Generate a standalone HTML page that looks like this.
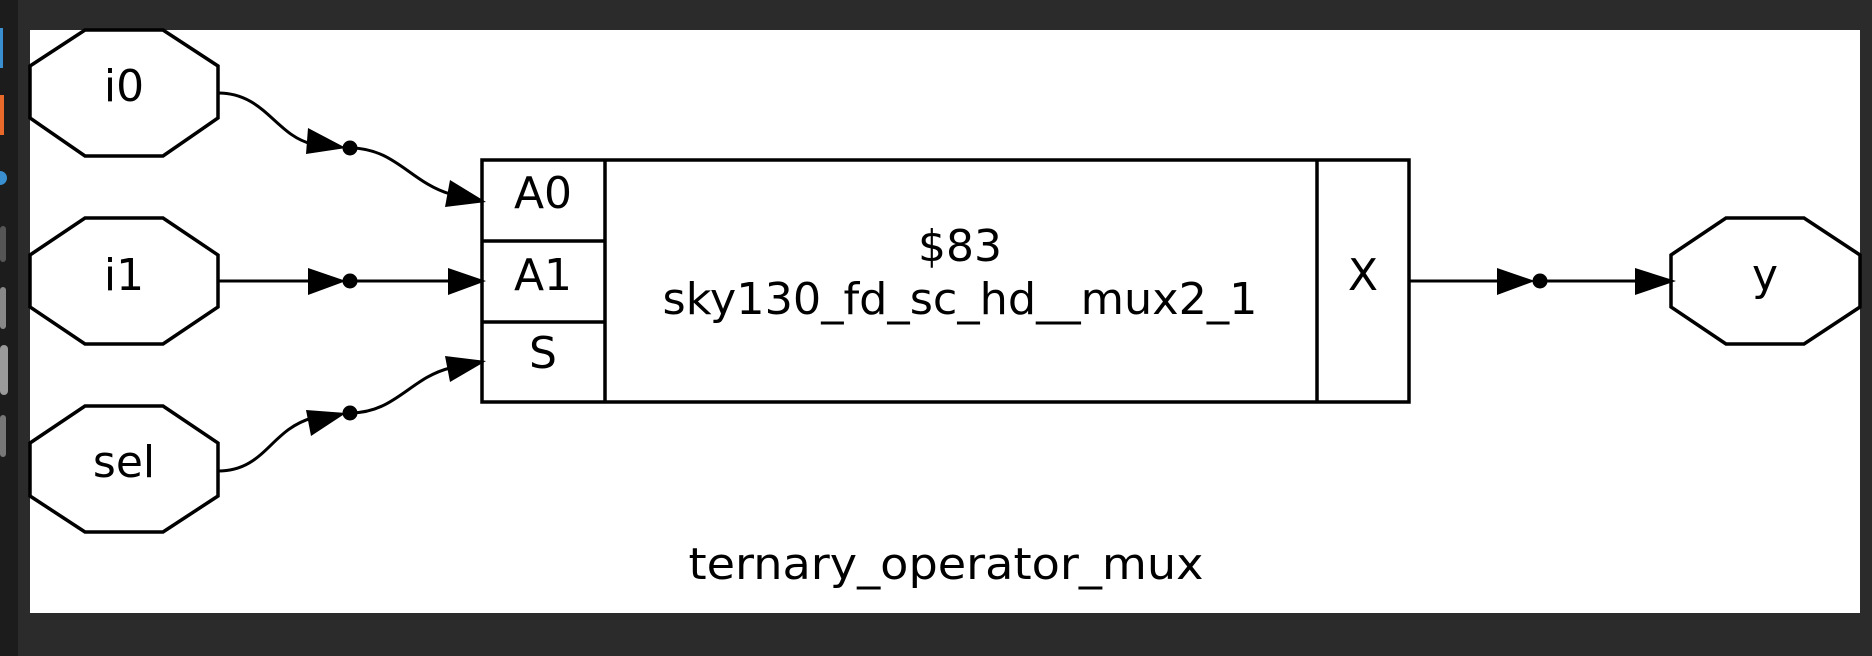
<!DOCTYPE html>
<html><head><meta charset="utf-8"><style>
html,body{margin:0;padding:0;background:#2b2b2b;width:1872px;height:656px;overflow:hidden}
svg{display:block}
text{font-family:"DejaVu Sans","Liberation Sans",sans-serif;fill:#000}
</style></head><body>
<svg width="1872" height="656" viewBox="0 0 1872 656" xmlns="http://www.w3.org/2000/svg">
<rect x="0" y="0" width="1872" height="656" fill="#2b2b2b"/>
<rect x="0" y="0" width="18" height="656" fill="#1c1c1c"/>
<rect x="0" y="28" width="3" height="40" fill="#3a8fd0"/>
<rect x="0" y="95" width="4" height="40" fill="#e8692a"/>
<circle cx="0" cy="178" r="7" fill="#3a8fd0"/>
<rect x="0" y="226" width="6" height="36" rx="3" fill="#555"/>
<rect x="0" y="287" width="6" height="42" rx="3" fill="#888"/>
<rect x="0" y="345" width="8" height="50" rx="4" fill="#9a9a9a"/>
<rect x="0" y="415" width="6" height="42" rx="3" fill="#777"/>
<rect x="30" y="30" width="1830" height="583" fill="#fff"/>
<g fill="none" stroke="#000" stroke-width="3.5">
<polygon points="30,66 85,30 163,30 218,66 218,118 163,156 85,156 30,118"/>
<polygon points="30,255 85,218 163,218 218,255 218,307 163,344 85,344 30,307"/>
<polygon points="30,443 85,406 163,406 218,443 218,496 163,532 85,532 30,496"/>
<polygon points="1671,255 1726,218 1804,218 1860,255 1860,307 1804,344 1726,344 1671,307"/>
<rect x="482" y="160" width="927" height="242"/>
<line x1="605" y1="160" x2="605" y2="402"/>
<line x1="1317" y1="160" x2="1317" y2="402"/>
<line x1="482" y1="241" x2="605" y2="241"/>
<line x1="482" y1="322" x2="605" y2="322"/>
</g>
<g fill="none" stroke="#000" stroke-width="3">
<path d="M218,93 C265,93 275,135 312,144"/>
<path d="M350,148 C395,148 410,182 450,194"/>
<line x1="218" y1="281" x2="310" y2="281"/>
<line x1="350" y1="281" x2="448" y2="281"/>
<path d="M218,471 C265,471 270,430 312,418"/>
<path d="M350,413 C395,413 410,378 450,368"/>
<line x1="1409" y1="281" x2="1500" y2="281"/>
<line x1="1540" y1="281" x2="1638" y2="281"/>
</g>
<g fill="#000">
<polygon points="308,128 346,148 306,154"/>
<polygon points="450,180 486,202 445,207"/>
<polygon points="308,268 346,281 308,295"/>
<polygon points="448,268 486,281 448,295"/>
<polygon points="306,410 346,413 311,436"/>
<polygon points="445,356 486,361 450,382"/>
<polygon points="1497,268 1535,281 1497,295"/>
<polygon points="1635,268 1676,281 1635,295"/>
<circle cx="350" cy="148" r="7.5"/>
<circle cx="350" cy="281" r="7.5"/>
<circle cx="350" cy="413" r="7.5"/>
<circle cx="1540" cy="281" r="7.5"/>
</g>
<g font-size="44" text-anchor="middle">
<text x="124" y="101">i0</text>
<text x="124" y="290">i1</text>
<text x="124" y="477">sel</text>
<text x="1765" y="290">y</text>
<text x="543" y="208">A0</text>
<text x="543" y="290">A1</text>
<text x="543" y="368">S</text>
<text x="1363" y="290">X</text>
<text x="960" y="261">$83</text>
<text x="960" y="314" textLength="595" lengthAdjust="spacingAndGlyphs">sky130_fd_sc_hd__mux2_1</text>
<text x="946" y="579" textLength="515" lengthAdjust="spacingAndGlyphs">ternary_operator_mux</text>
</g>
</svg>
</body></html>
